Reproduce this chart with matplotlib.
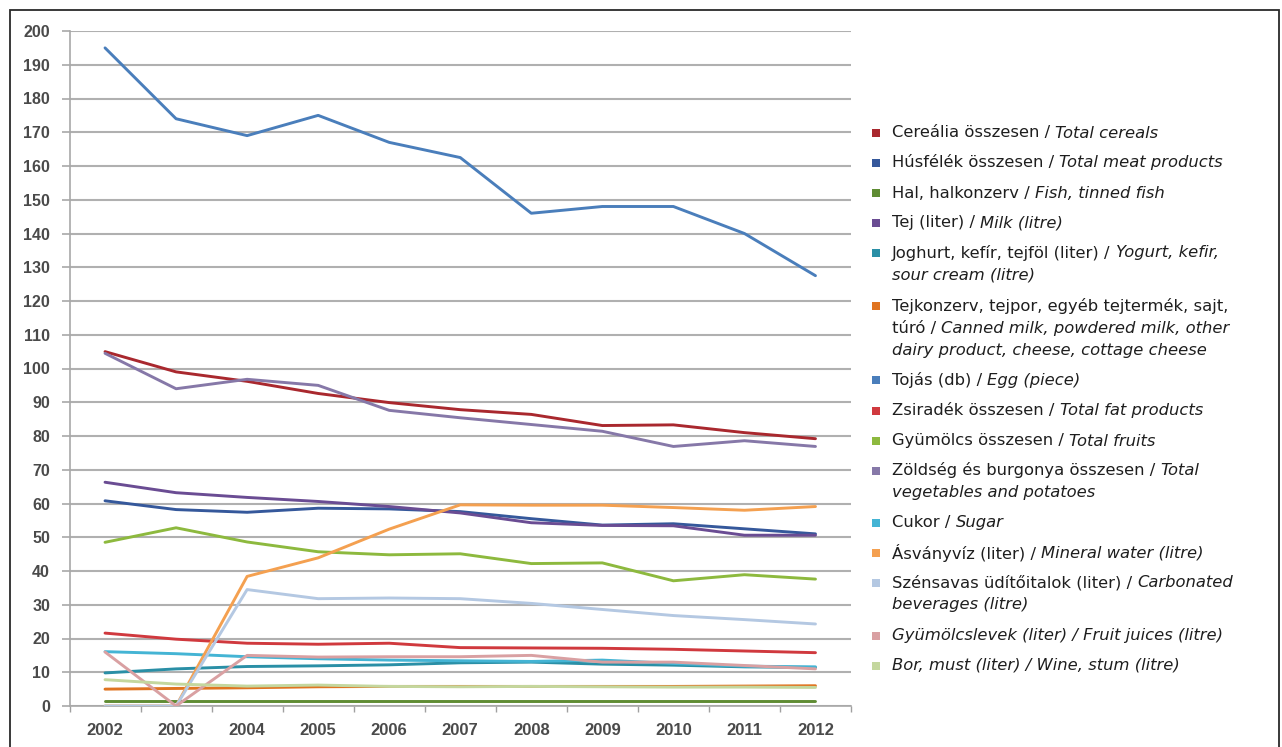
import matplotlib
matplotlib.use("Agg")
import matplotlib.pyplot as plt
from matplotlib.patches import Rectangle
import numpy as np

years = ["2002", "2003", "2004", "2005", "2006", "2007", "2008", "2009", "2010", "2011", "2012"]

cereals      = [105, 99, 96.2, 92.6, 89.9, 87.8, 86.4, 83.1, 83.3, 81, 79.2]
meat         = [60.8, 58.2, 57.4, 58.6, 58.4, 57.6, 55.5, 53.6, 54.0, 52.5, 51.0]
fish         = [1.6, 1.6, 1.6, 1.6, 1.6, 1.6, 1.6, 1.6, 1.6, 1.6, 1.6]
milk         = [66.3, 63.2, 61.8, 60.6, 59.1, 57.2, 54.3, 53.5, 53.4, 50.6, 50.6]
yogurt       = [9.8, 11.0, 11.7, 11.9, 12.2, 12.8, 13.0, 12.4, 12.1, 11.6, 11.4]
canned_milk  = [5.0, 5.2, 5.4, 5.7, 5.8, 5.8, 5.8, 5.8, 5.8, 5.9, 6.0]
egg          = [195, 174, 169, 175, 167, 162.5, 146, 148, 148, 140, 127.5]
fat          = [21.6, 19.8, 18.6, 18.3, 18.6, 17.3, 17.2, 17.1, 16.8, 16.3, 15.8]
fruits       = [48.5, 52.8, 48.6, 45.7, 44.8, 45.1, 42.2, 42.4, 37.1, 38.9, 37.6]
vegetables   = [104.5, 94, 96.8, 95, 87.6, 85.4, 83.4, 81.4, 76.9, 78.6, 76.9]
sugar        = [16.1, 15.5, 14.6, 14.0, 13.6, 13.4, 13.2, 13.6, 12.6, 11.8, 11.6]
mineral      = [0, 0, 38.4, 43.9, 52.4, 59.6, 59.5, 59.5, 58.8, 58.0, 59.1]
carbonated   = [0, 0, 34.5, 31.8, 32.0, 31.8, 30.4, 28.6, 26.8, 25.6, 24.3]
fruit_juice  = [16.0, 0, 15.0, 14.5, 14.6, 14.6, 15.0, 13.0, 13.0, 12.0, 11.0]
wine         = [7.8, 6.5, 5.9, 6.2, 5.8, 5.7, 5.8, 5.7, 5.6, 5.6, 5.5]

yticks = list(range(0, 201, 10))

series = [
    (cereals, "#A9282E", [[("Cereália összesen / ", "normal"), ("Total cereals", "italic")]]),
    (meat, "#35589B", [[("Húsfélék összesen / ", "normal"), ("Total meat products", "italic")]]),
    (fish, "#5F8C33", [[("Hal, halkonzerv / ", "normal"), ("Fish, tinned fish", "italic")]]),
    (milk, "#6A4C93", [[("Tej (liter) / ", "normal"), ("Milk (litre)", "italic")]]),
    (yogurt, "#2A8FA6", [[("Joghurt, kefír, tejföl (liter) / ", "normal"), ("Yogurt, kefir,", "italic")],
                          [("sour cream (litre)", "italic")]]),
    (canned_milk, "#E07420", [[("Tejkonzerv, tejpor, egyéb tejtermék, sajt,", "normal")],
                               [("túró / ", "normal"), ("Canned milk, powdered milk, other", "italic")],
                               [("dairy product, cheese, cottage cheese", "italic")]]),
    (egg, "#4A7EBB", [[("Tojás (db) / ", "normal"), ("Egg (piece)", "italic")]]),
    (fat, "#D0393E", [[("Zsiradék összesen / ", "normal"), ("Total fat products", "italic")]]),
    (fruits, "#8DB93E", [[("Gyümölcs összesen / ", "normal"), ("Total fruits", "italic")]]),
    (vegetables, "#8678A8", [[("Zöldség és burgonya összesen / ", "normal"), ("Total", "italic")],
                              [("vegetables and potatoes", "italic")]]),
    (sugar, "#44B4D4", [[("Cukor / ", "normal"), ("Sugar", "italic")]]),
    (mineral, "#F4A050", [[("Ásványvíz (liter) / ", "normal"), ("Mineral water (litre)", "italic")]]),
    (carbonated, "#B4C8E2", [[("Szénsavas üdítőitalok (liter) / ", "normal"), ("Carbonated", "italic")],
                              [("beverages (litre)", "italic")]]),
    (fruit_juice, "#D9A0A2", [[("Gyümölcslevek (liter) / Fruit juices (litre)", "italic")]]),
    (wine, "#C4D79E", [[("Bor, must (liter) / Wine, stum (litre)", "italic")]]),
]

W, H = 1282, 747
fig = plt.figure(figsize=(W / 100, H / 100), dpi=100)
fig.patch.set_facecolor("white")

def fx(px):
    return px / W

def fy(py):
    return 1 - py / H

ax = fig.add_axes([fx(69.5), fy(706), fx(851) - fx(69.5), fy(31) - fy(706)])
x = np.arange(len(years))
for vals, col, _ in series:
    ax.plot(x, vals, color=col, lw=2.1, solid_joinstyle="round", solid_capstyle="round", zorder=3)

ax.set_xlim(-0.5, len(years) - 0.5)
ax.set_ylim(0, 200)
ax.set_yticks(yticks)
ax.set_yticklabels([str(v) for v in yticks], fontsize=11.5, color="#4a4a4a",
                   family="Liberation Sans", fontweight="bold")
ax.set_xticks(x)
ax.set_xticklabels(years, fontsize=12, color="#4a4a4a", family="Liberation Sans", fontweight="bold")
ax.set_xticks(np.arange(len(years) + 1) - 0.5, minor=True)
ax.tick_params(axis="x", which="major", length=0, pad=12)
ax.tick_params(axis="x", which="minor", length=4, color="#a0a0a0", width=1)
ax.tick_params(axis="y", length=6, color="#a8a8a8", width=1.2, pad=8)
ax.yaxis.grid(True, color="#b0b0b0", lw=1.5, zorder=1)
for s in ["top", "right"]:
    ax.spines[s].set_visible(False)
ax.spines["left"].set_color("#a8a8a8")
ax.spines["bottom"].set_color("#a8a8a8")
ax.spines["left"].set_linewidth(1.2)
ax.spines["bottom"].set_linewidth(1.2)

# figure border
fig.patches.append(Rectangle((fx(10), fy(760)), fx(1279) - fx(10), fy(10) - fy(760),
                             transform=fig.transFigure, fill=False, edgecolor="#2a2a2a", lw=1.3))

# legend
renderer = fig.canvas.get_renderer()
line_y = [[133], [163], [193], [223], [253, 275.5], [305.5, 328, 350.5], [380.5], [411], [441],
          [470.5, 492.7], [522.5], [552.5], [582.5, 605], [635.5], [665.5]]
fs = 11.8
for (vals, col, lines), ys in zip(series, line_y):
    fig.patches.append(Rectangle((fx(872), fy(ys[0] + 4)), fx(8) - fx(0), fy(0) - fy(8),
                                 transform=fig.transFigure, facecolor=col, edgecolor="none"))
    for segs, yy in zip(lines, ys):
        xpos = 892
        for txt, style in segs:
            t = fig.text(fx(xpos), fy(yy), txt, fontsize=fs, style=style, family="DejaVu Sans",
                         color="#1e1e1e", va="center", ha="left")
            bb = t.get_window_extent(renderer=renderer)
            xpos += bb.width

fig.savefig("out.png", dpi=100, facecolor="white")
